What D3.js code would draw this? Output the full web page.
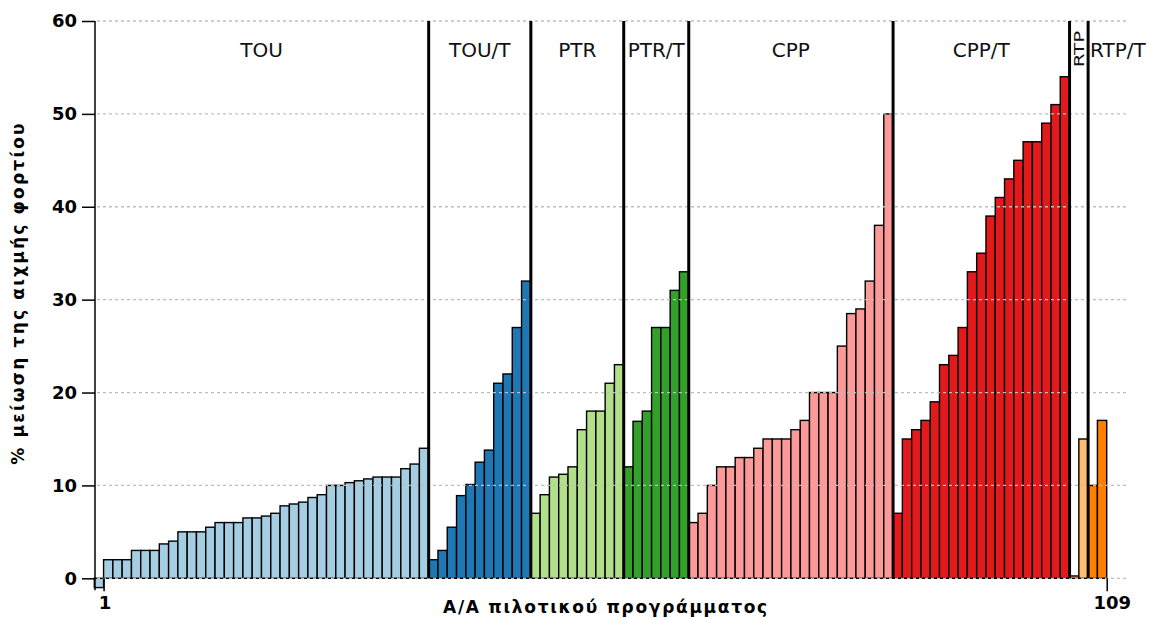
<!DOCTYPE html>
<html>
<head>
<meta charset="utf-8">
<script src="https://cdn.jsdelivr.net/npm/d3@7"></script>
<style>
  body { margin: 0; background: #fff; }
  text { font-family: "DejaVu Sans", Verdana, sans-serif; }
</style>
</head>
<body>
<div id="chart"></div>
<script>
// Values per programme type (% peak load reduction)
const touValues = [-1, 2, 2, 2, 3, 3, 3, 3.7, 4, 5, 5, 5, 5.5, 6, 6, 6, 6.5, 6.5, 6.7, 7, 7.8, 8, 8.2, 8.7, 9, 10, 10, 10.3, 10.5, 10.7, 10.9, 10.9, 10.9, 11.8, 12.3, 14];
const touTValues = [2, 3, 5.5, 8.9, 10.1, 12.5, 13.8, 21, 22, 27, 32];
const ptrValues = [7, 9, 10.9, 11.2, 12, 16, 18, 18, 21, 23];
const ptrTValues = [12, 16.9, 18, 27, 27, 31, 33];
const cppValues = [6, 7, 10, 12, 12, 13, 13, 14, 15, 15, 15, 16, 17, 20, 20, 20, 25, 28.5, 29, 32, 38, 50];
const cppTValues = [7, 15, 16, 17, 19, 23, 24, 27, 33, 35, 39, 41, 43, 45, 47, 47, 49, 51, 54];
const rtpValues = [0.25, 15];
const rtpTValues = [10, 17];

const groupNames = ["TOU", "TOU/T", "PTR", "PTR/T", "CPP", "CPP/T", "RTP", "RTP/T"];
const groupValues = [touValues, touTValues, ptrValues, ptrTValues, cppValues, cppTValues, rtpValues, rtpTValues];
const yTicks = [0, 10, 20, 30, 40, 50, 60];
const xTicks = [1, 109];

const yTitle = "% μείωση της αιχμής φορτίου";
const xTitle = "Α/Α πιλοτικού προγράμματος";

// flatten into one list of bars, numbered 1..109
const bars = [];
const groups = [];
groupNames.forEach((name, gi) => {
    const start = bars.length;
    groupValues[gi].forEach(v => bars.push({ index: bars.length + 1, value: v, group: gi }));
    groups.push({ name: name, start: start, end: bars.length, index: gi });
});

const W = 1149, H = 618;
const color = d3.scaleOrdinal().domain(d3.range(8)).range(d3.schemePaired);

const svg = d3.select("#chart")
    .append("svg")
    .attr("width", W)
    .attr("height", H);

const x = d3.scaleLinear()
    .domain([0, bars.length])
    .range([94.3, 1106.7]);

const y = d3.scaleLinear()
    .domain([0, 60])
    .range([578.3, 21]);

const axisX = 95;
const gridRight = 1128;

// Bars
svg.append("g")
    .selectAll("rect")
    .data(bars)
    .join("rect")
    .attr("x", d => x(d.index - 1))
    .attr("width", d => x(d.index) - x(d.index - 1))
    .attr("y", d => y(Math.max(0, d.value)))
    .attr("height", d => Math.abs(y(d.value) - y(0)))
    .attr("fill", d => color(d.group))
    .attr("stroke", "#000")
    .attr("stroke-width", 1.4);

// Gridlines (drawn on top of the bars)
svg.append("g")
    .selectAll("line")
    .data(yTicks)
    .join("line")
    .attr("x1", axisX + 2)
    .attr("x2", gridRight)
    .attr("y1", d => y(d))
    .attr("y2", d => y(d))
    .attr("stroke", "#bdbdbd")
    .attr("stroke-width", 1.3)
    .attr("stroke-dasharray", "3,3");

// Group separators
svg.append("g")
    .selectAll("line")
    .data(groups.slice(0, -1))
    .join("line")
    .attr("x1", d => x(d.end))
    .attr("x2", d => x(d.end))
    .attr("y1", y(60))
    .attr("y2", y(0))
    .attr("stroke", "#000")
    .attr("stroke-width", 3);

// Group labels
const last = groups.length - 1;
svg.append("g")
    .selectAll("text")
    .data(groups)
    .join("text")
    .attr("font-size", 20)
    .attr("fill", "#111")
    .attr("text-anchor", "middle")
    .text(d => d.name)
    .each(function (d) {
        const t = d3.select(this);
        const x0 = x(d.start), x1 = x(d.end);
        const w = this.getComputedTextLength();
        if (w > x1 - x0 && d.index !== last) {
            // too narrow and boxed in: rotate the label inside its strip
            t.attr("transform", `translate(${(x0 + x1) / 2 + 5}, 49) rotate(-90) scale(1, 0.72)`);
        } else {
            const cx = Math.max((x0 + x1) / 2, x0 + w / 2 + 2);
            t.attr("x", cx).attr("y", 57);
        }
    });

// Y axis
const yAxis = svg.append("g")
    .attr("transform", `translate(${axisX}, 0)`)
    .call(d3.axisLeft(y).tickValues(yTicks).tickSize(13).tickPadding(5));
yAxis.select(".domain").remove();
yAxis.append("line")
    .attr("x1", 0).attr("x2", 0)
    .attr("y1", y(60)).attr("y2", y(-1.3))
    .attr("stroke", "#000")
    .attr("stroke-width", 1.5);
yAxis.selectAll(".tick line").attr("stroke-width", 1.5);
yAxis.selectAll(".tick text")
    .attr("font-family", "DejaVu Sans, sans-serif")
    .attr("font-size", 18)
    .attr("font-weight", "bold")
    .attr("fill", "#000");

// X axis: only the first and last programme
const xAxis = svg.append("g")
    .attr("transform", `translate(0, ${y(0)})`)
    .call(d3.axisBottom(x).tickValues(xTicks).tickSize(13).tickPadding(5));
xAxis.select(".domain").remove();
xAxis.selectAll(".tick line").attr("stroke-width", 1.5);
xAxis.selectAll(".tick text")
    .attr("font-family", "DejaVu Sans, sans-serif")
    .attr("font-size", 18)
    .attr("font-weight", "bold")
    .attr("fill", "#000")
    .attr("dx", d => d === 109 ? 5 : 1);

// Axis titles
svg.append("text")
    .attr("x", 606)
    .attr("y", 613)
    .attr("text-anchor", "middle")
    .attr("font-size", 17)
    .attr("font-weight", "bold")
    .attr("letter-spacing", 1.7)
    .text(xTitle);

svg.append("text")
    .attr("transform", `translate(24, 293) rotate(-90)`)
    .attr("text-anchor", "middle")
    .attr("font-size", 17)
    .attr("font-weight", "bold")
    .attr("letter-spacing", 2.2)
    .text(yTitle);
</script>
</body>
</html>
